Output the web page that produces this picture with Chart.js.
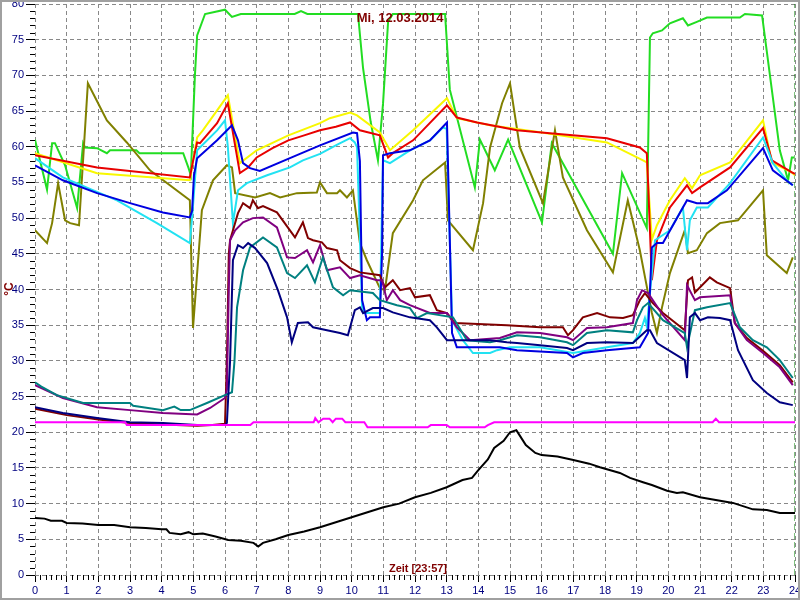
<!DOCTYPE html>
<html>
<head>
<meta charset="utf-8">
<script src="https://cdn.jsdelivr.net/npm/chart.js@4/dist/chart.umd.min.js"></script>
<style>
  html, body { margin: 0; padding: 0; background: #fff; }
  canvas { display: block; }
</style>
</head>
<body>
<canvas id="chart" width="800" height="600"></canvas>
<script>
// [hour, °C] pairs
const green = [[0,61],[0.38,54],[0.54,60.5],[0.63,60.5],[0.95,57.4],[1.33,51.4],[1.52,60.5],[1.58,59.9],[1.96,59.8],[2.27,59.1],[2.37,59.5],[3.2,59.5],[3.3,59.1],[4.68,59.1],[4.85,57],[4.92,56],[5.05,70],[5.12,75.6],[5.37,78.6],[6.0,79.2],[6.22,78.2],[6.5,78.6],[8.2,78.6],[8.4,79.0],[8.6,78.6],[10.2,78.6],[10.36,71],[10.6,63.5],[10.83,58.1],[10.99,66],[11.15,77.5],[11.3,78.6],[12.95,78.6],[13.1,68],[13.89,54.3],[14.05,61],[14.52,56.7],[14.94,61],[16.01,49.4],[16.32,60.5],[18.25,45],[18.54,56.3],[19.32,48.6],[19.42,75.3],[19.51,75.9],[19.8,76.3],[20.05,77.3],[20.46,78],[20.62,77],[20.9,77.5],[21.22,78.1],[22.26,78.1],[22.42,78.6],[22.96,78.4],[23.52,59.5],[23.78,55.3],[23.9,58.5],[23.97,58.5]];
const olive = [[0,48.3],[0.38,46.5],[0.54,49.3],[0.73,54.9],[0.95,49.7],[1.11,49.3],[1.39,49.0],[1.67,68.9],[2.27,63.7],[2.9,60.6],[3.63,56.7],[4.89,52.5],[4.96,40],[4.99,34.6],[5.27,51.1],[5.62,55.3],[6.06,57.4],[6.22,57.1],[6.32,53.5],[6.95,52.9],[7.42,53.5],[7.74,52.9],[8.27,53.5],[8.9,53.6],[9.0,55.0],[9.22,53.5],[9.54,53.5],[9.63,53.9],[9.85,52.9],[10.04,53.9],[10.26,46.5],[10.48,44.1],[10.89,40.2],[11.05,39.9],[11.3,47.9],[11.94,52.5],[12.25,55.3],[12.95,57.8],[13.04,49.7],[13.83,45.5],[14.15,52.1],[14.37,59.9],[14.75,66.1],[15.0,68.9],[15.31,59.9],[16.04,52.1],[16.42,62.3],[16.67,55.7],[17.43,48.3],[18.25,42.4],[18.72,52.5],[19.1,45.5],[19.36,39.5],[19.48,36.7],[19.64,33.9],[19.8,37.5],[20.05,42.3],[20.52,48.3],[20.62,45.1],[20.9,45.5],[21.22,47.9],[21.63,49.3],[22.2,49.7],[22.99,53.9],[23.11,44.8],[23.74,42.3],[23.93,44.5]];
const red = [[0,58.8],[1.96,57.1],[4.89,55.7],[4.99,58],[5.12,60.6],[5.21,60.5],[5.75,63.3],[6.09,66.1],[6.47,56.3],[6.73,57.1],[7.0,58.5],[7.5,59.8],[8.0,60.9],[8.5,61.6],[9.0,62.3],[9.5,62.8],[9.95,63.4],[10.26,62.3],[10.89,61.6],[11.15,58.5],[11.3,59.1],[11.94,60.9],[13.01,65.8],[13.32,64.1],[13.96,63.4],[15.22,62.3],[16.26,61.9],[18.06,61.2],[19.1,59.9],[19.32,59.1],[19.36,55],[19.48,41.3],[19.64,46.9],[20.05,51.5],[20.59,54.6],[20.75,53.5],[21.0,54.3],[21.95,57.1],[22.99,62.6],[23.27,58.1],[23.9,56.4],[24,56.2]];
const yellow = [[0,59.1],[1.96,56.3],[4.89,55.3],[4.99,58],[5.12,61.3],[5.3,62.3],[6.09,67.2],[6.47,57.7],[7.0,59.5],[8.0,61.6],[9.0,63.3],[9.31,64.0],[9.95,64.8],[10.17,64.4],[10.89,62.0],[11.21,59.5],[11.94,62.3],[13.01,66.8],[13.32,64.0],[14.37,63.0],[16.0,62.0],[18.06,60.6],[19.2,58.1],[19.32,57.8],[19.48,47.0],[19.64,49],[20.05,52.5],[20.52,55.6],[20.75,54.2],[21.0,56.0],[21.95,57.8],[22.99,63.7],[23.27,57.8],[23.9,56.4],[24,56]];
const blue = [[0,57.4],[0.88,55.3],[1.96,53.5],[3.0,52.1],[4.04,50.8],[4.89,50.1],[4.96,51],[5.02,56],[5.12,58.4],[5.75,60.9],[6.22,63.0],[6.41,60.9],[6.57,57.7],[6.79,57.0],[7.1,56.6],[8.05,58.4],[9.0,60.2],[10.04,62.0],[10.17,61.9],[10.26,58],[10.33,38.5],[10.48,35.7],[10.58,36.1],[10.89,36.1],[10.96,45],[10.99,58.8],[11.21,59.1],[11.84,59.5],[12.47,60.9],[13.01,63.4],[13.17,33.9],[13.32,31.9],[14.68,31.9],[15.22,31.5],[16.8,31.1],[16.99,30.5],[17.3,31.1],[18.06,31.5],[19.1,31.9],[19.36,33.9],[19.48,45.9],[19.64,46.5],[19.83,46.5],[20.59,52.5],[20.9,52.1],[21.25,52.1],[21.85,53.9],[22.99,59.8],[23.3,56.7],[23.93,54.6]];
const cyan = [[0,58.4],[0.88,55.7],[2.59,52.5],[3.85,49.3],[4.89,46.5],[4.96,50],[5.12,59.5],[5.75,62.3],[6.0,63.7],[6.09,60],[6.25,49.3],[6.41,53.9],[6.69,54.9],[7.33,56.0],[8.05,57.1],[8.46,58.1],[9.0,59.0],[9.5,60.2],[9.95,61.2],[10.1,60.6],[10.17,59.9],[10.33,37.5],[10.42,36.7],[10.89,36.7],[10.99,58.1],[11.21,57.7],[11.84,59.5],[12.47,60.9],[12.88,62.7],[13.0,62.5],[13.17,35.7],[13.51,32.9],[13.83,31.1],[14.37,31.1],[14.59,31.5],[15.0,31.9],[15.95,31.9],[16.99,31.1],[18.06,31.9],[18.88,32.5],[19.1,33.9],[19.26,36.0],[19.32,34.8],[19.48,42.3],[19.58,46.9],[20.05,48.3],[20.46,51.5],[20.59,45.5],[20.68,49.7],[20.9,51.5],[21.25,51.5],[21.95,54.9],[22.99,61.3],[23.3,57.7],[23.74,55.3],[23.93,54.6]];
const maroon = [[0,23.3],[1,22.4],[2,21.8],[3,21.3],[4,21.1],[5.12,20.9],[5.6,21.0],[6.0,21.2],[6.06,30],[6.12,45],[6.16,46.9],[6.41,50.7],[6.57,52.1],[6.79,51.4],[6.88,52.5],[7.04,51.4],[7.2,51.7],[7.64,50.8],[8.21,47.3],[8.46,49.4],[8.62,47.2],[8.78,46.9],[9.06,46.6],[9.22,45.8],[9.54,45.5],[9.63,44.1],[9.95,43.0],[10.26,42.4],[10.89,42.0],[11.05,40.3],[11.3,41.3],[11.53,39.9],[11.84,40.2],[12.0,38.9],[12.47,39.2],[12.69,37.1],[13.01,36.7],[13.26,35.3],[14.9,35.0],[15.95,34.7],[16.67,34.7],[16.83,33.6],[16.99,34.3],[17.3,36.1],[17.75,36.7],[18.16,36.1],[18.57,36.0],[18.88,36.4],[19.1,38.5],[19.26,39.5],[19.51,38.1],[19.83,36.7],[20.52,34.3],[20.62,41.3],[20.75,41.7],[20.84,39.6],[21.22,41.3],[21.31,41.7],[21.53,41.0],[21.95,40.2],[22.1,35.3],[22.48,33.2],[22.99,31.4],[23.52,29.4],[23.93,27.0]];
const purple = [[0,26.6],[0.88,24.8],[1.96,23.5],[3.0,23.1],[4.04,22.7],[5.12,22.5],[5.53,23.4],[6.0,24.8],[6.06,26],[6.12,40],[6.16,46.9],[6.32,48.3],[6.57,49.4],[6.88,50.0],[7.2,50.1],[7.64,48.7],[7.96,44.5],[8.21,44.4],[8.59,45.5],[8.78,43.8],[9.0,46.2],[9.22,42.7],[9.63,43.1],[9.95,41.6],[10.26,42.0],[10.8,41.3],[10.96,41.3],[11.11,38.5],[11.3,39.9],[11.53,38.5],[11.84,37.8],[12.47,36.7],[13.01,36.7],[13.32,34.7],[13.74,32.9],[14.68,33.2],[15.22,34.0],[15.95,33.9],[16.8,33.3],[16.99,32.9],[17.43,34.6],[18.06,34.7],[18.88,35.3],[19.01,38.5],[19.17,39.9],[19.36,39.5],[19.83,36.4],[20.52,32.9],[20.59,40.6],[20.84,38.5],[21.0,38.9],[21.95,39.2],[22.1,35.3],[22.48,32.9],[22.99,31.1],[23.52,29.1],[23.93,26.6]];
const teal = [[0,27.0],[0.2,26.4],[0.69,25.2],[1.52,24.1],[3.0,24.1],[3.1,23.7],[4.04,23.1],[4.4,23.6],[4.6,23.1],[4.89,23.1],[5.43,24.1],[6.0,25.2],[6.22,25.6],[6.3,30],[6.38,37.5],[6.57,42.7],[6.79,45.9],[7.2,47.3],[7.64,45.9],[7.96,42.3],[8.21,41.6],[8.59,43.4],[8.84,41.0],[9.09,44.5],[9.41,40.3],[9.73,39.2],[9.95,39.9],[10.67,39.5],[10.89,38.5],[11.43,37.8],[11.84,37.4],[12.06,36.0],[12.38,36.7],[13.2,36.1],[13.64,32.9],[14.37,32.6],[14.68,32.9],[15.22,33.6],[15.95,33.3],[16.8,32.6],[16.99,32.2],[17.43,33.9],[18.06,34.3],[18.88,34.0],[19.01,35.7],[19.2,37.5],[19.36,38.1],[19.83,35.7],[20.52,33.9],[20.59,31.9],[20.84,37.1],[21.22,37.5],[21.95,38.1],[22.26,34.7],[22.67,32.9],[23.11,31.9],[23.52,30.1],[23.93,27.6]];
const navy = [[0,23.5],[0.88,22.7],[1.96,22.0],[3.0,21.4],[4.04,21.3],[5.12,21.0],[6.0,21.0],[6.06,21.3],[6.16,30],[6.25,44.1],[6.41,46.2],[6.57,45.8],[6.73,46.5],[6.95,45.8],[7.33,43.7],[7.67,39.9],[7.96,36.1],[8.11,32.6],[8.3,35.3],[8.62,35.4],[8.78,34.7],[9.22,34.3],[9.63,33.9],[9.88,33.6],[10.1,37.1],[10.26,37.5],[10.36,36.7],[10.67,37.4],[10.99,37.4],[11.3,36.8],[11.84,36.1],[12.47,35.7],[12.69,34.7],[13.01,32.9],[14.37,32.9],[14.9,32.6],[15.22,32.5],[15.95,32.2],[16.8,31.8],[16.99,31.5],[17.43,32.5],[18.06,32.6],[18.88,32.5],[19.32,34.3],[19.42,34.3],[19.64,32.5],[20.52,30.1],[20.59,27.6],[20.68,36.1],[20.84,36.7],[21.0,35.7],[21.25,36.1],[21.63,36.0],[21.95,35.7],[22.2,31.5],[22.67,27.3],[23.11,25.5],[23.52,24.2],[23.93,23.8]];
const magenta = [[0,21.4],[2.85,21.4],[2.9,21.0],[6.8,21.0],[6.9,21.4],[8.8,21.4],[8.85,22.0],[8.95,21.4],[9.1,21.9],[9.3,21.9],[9.4,21.4],[9.5,21.9],[9.7,21.9],[9.8,21.4],[10.4,21.4],[10.5,20.7],[12.4,20.7],[12.5,21.0],[13.0,21.0],[13.1,20.7],[14.2,20.7],[14.3,21.0],[14.5,21.4],[21.4,21.4],[21.5,21.9],[21.6,21.4],[24,21.4]];
const outside = [[0,8.0],[0.3,7.9],[0.5,7.6],[0.85,7.6],[1.0,7.3],[1.5,7.2],[2.0,7.0],[2.5,7.0],[3.0,6.7],[3.5,6.6],[4.0,6.4],[4.15,6.4],[4.25,5.9],[4.6,5.7],[4.85,6.0],[5.0,5.7],[5.3,5.8],[5.7,5.4],[6.1,4.9],[6.5,4.8],[6.9,4.5],[7.05,4.0],[7.2,4.5],[7.6,5.0],[8.0,5.6],[8.5,6.1],[9.0,6.7],[9.5,7.4],[10.0,8.1],[10.5,8.8],[11.0,9.5],[11.5,10.0],[12.0,10.9],[12.5,11.5],[13.0,12.3],[13.5,13.3],[13.8,13.6],[14.0,14.7],[14.3,16.2],[14.5,17.8],[14.8,18.8],[15.0,20.0],[15.2,20.3],[15.3,19.6],[15.5,18.2],[15.8,17.1],[16.0,16.8],[16.5,16.6],[17.0,16.1],[17.5,15.6],[17.84,15.1],[18.47,14.3],[18.79,13.6],[19.2,13.0],[19.48,12.6],[19.96,11.8],[20.27,11.5],[20.46,11.6],[21.0,10.9],[22.04,10.1],[22.67,9.2],[23.11,9.1],[23.52,8.7],[24.0,8.7]];
const nowMarker = [[24,0],[24,80]];

const hourTicks = [0, 24];
const tempRange = [0, 80];
const titleText = "Mi, 12.03.2014";
const xTitle = "Zeit [23:57]";
const yTitle = "°C";

function series(data, color, extra) {
  return Object.assign({
    data: data.map(p => ({ x: p[0], y: p[1] })),
    borderColor: color,
    borderWidth: 2,
    pointRadius: 0,
    tension: 0,
    fill: false
  }, extra || {});
}

const decorations = {
  id: "decorations",
  afterDraw(chart) {
    const { ctx, scales: { x, y } } = chart;
    ctx.save();
    // minor ticks
    ctx.strokeStyle = "#000";
    ctx.lineWidth = 1;
    ctx.beginPath();
    for (let v = tempRange[0]; v <= tempRange[1]; v++) {
      if (v % 5 === 0) continue;
      const py = Math.round(y.getPixelForValue(v)) + 0.5;
      ctx.moveTo(x.left - 5, py);
      ctx.lineTo(x.left, py);
    }
    for (let m = 0; m <= hourTicks[1] * 6; m++) {
      if (m % 6 === 0) continue;
      const px = Math.round(x.getPixelForValue(m / 6)) + 0.5;
      ctx.moveTo(px, y.bottom);
      ctx.lineTo(px, y.bottom + 5);
    }
    ctx.stroke();

    ctx.fillStyle = "#800000";
    ctx.textAlign = "center";
    ctx.textBaseline = "middle";
    ctx.font = "bold 13px 'Liberation Sans', Arial, sans-serif";
    ctx.fillText(titleText, 400, 18);
    ctx.font = "bold 11px 'Liberation Sans', Arial, sans-serif";
    ctx.fillText(xTitle, 418, 569);
    ctx.translate(10, 289);
    ctx.rotate(-Math.PI / 2);
    ctx.font = "bold 12px 'Liberation Sans', Arial, sans-serif";
    ctx.fillText(yTitle, 0, 0);
    ctx.restore();

    // outer frame
    ctx.save();
    ctx.strokeStyle = "#a0a0a0";
    ctx.lineWidth = 2;
    ctx.strokeRect(1, 1, chart.width - 2, chart.height - 2);
    ctx.restore();
  }
};

new Chart(document.getElementById("chart"), {
  type: "line",
  data: {
    datasets: [
      series(outside, "#000000"),
      series(magenta, "#ff00ff"),
      series(navy, "#000080"),
      series(teal, "#008080"),
      series(purple, "#800080"),
      series(maroon, "#800000"),
      series(blue, "#0000e0"),
      series(cyan, "#22e2f2"),
      series(red, "#e80000"),
      series(yellow, "#f8f800"),
      series(olive, "#808000"),
      series(green, "#22dd22"),
      series(nowMarker, "#008000", { borderWidth: 1, borderDash: [6, 3] })
    ]
  },
  options: {
    responsive: false,
    animation: false,
    layout: { padding: { left: 0, top: 4, right: 5, bottom: 0 } },
    plugins: {
      legend: { display: false },
      tooltip: { enabled: false },
      title: { display: false }
    },
    scales: {
      x: {
        type: "linear",
        min: hourTicks[0],
        max: hourTicks[1],
        afterFit: s => { s.height = 25; s.paddingLeft = 0; s.paddingRight = 0; },
        ticks: {
          stepSize: 1,
          color: "#000080",
          padding: 2,
          font: { family: "'Liberation Sans', Arial, sans-serif", size: 11 }
        },
        grid: { color: "#888888", tickLength: 7, tickColor: "#000000", tickBorderDash: [] },
        border: { display: false, dash: [4, 3] }
      },
      y: {
        min: tempRange[0],
        max: tempRange[1],
        afterFit: s => { s.width = 35; s.paddingTop = 0; s.paddingBottom = 0; },
        ticks: {
          stepSize: 5,
          color: "#000080",
          padding: 2,
          font: { family: "'Liberation Sans', Arial, sans-serif", size: 11 }
        },
        grid: { color: "#888888", tickLength: 9, tickColor: "#000000", tickBorderDash: [] },
        border: { display: false, dash: [4, 3] }
      }
    }
  },
  plugins: [decorations]
});
</script>
</body>
</html>
